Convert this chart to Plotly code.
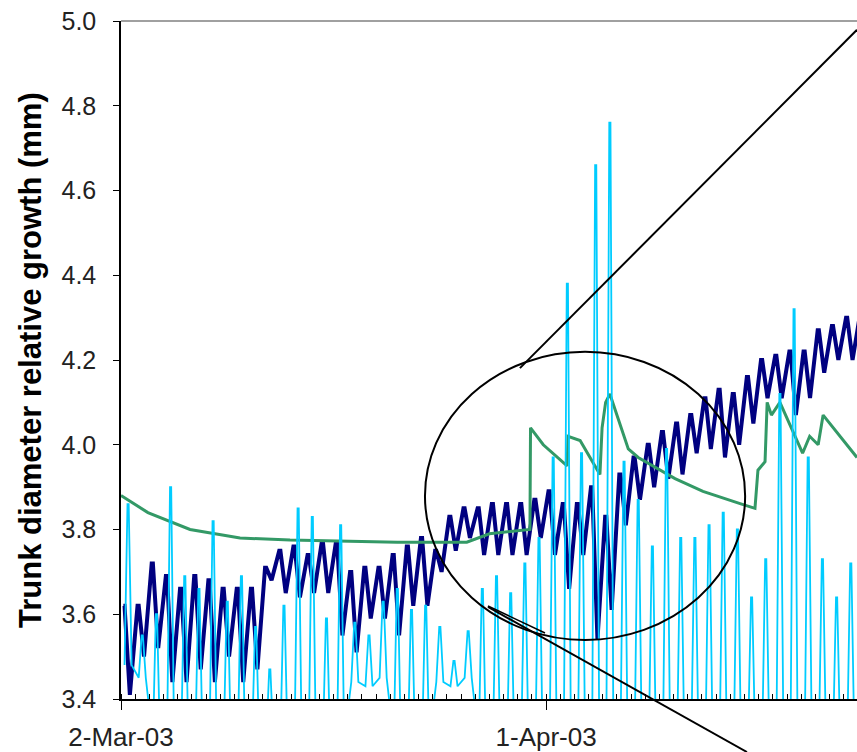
import pandas as pd
import plotly.graph_objects as go

BASE = "2003-03-02"
X_END_DAYS = 51.94

# Trunk diameter (navy): daily maximum (pre-dawn) and minimum (afternoon), mm
navy_peak = [3.62, 3.62, 3.72, 3.69, 3.66, 3.69, 3.68, 3.66, 3.66, 3.66,
             3.71, 3.75, 3.76, 3.74, 3.77, 3.77, 3.70, 3.71, 3.71, 3.74,
             3.76, 3.78, 3.75, 3.83, 3.85, 3.85, 3.86, 3.86, 3.86, 3.87,
             3.89, 3.86, 3.86, 3.90, 3.83, 3.93, 3.97, 4.00, 4.03, 4.05,
             4.07, 4.11, 4.13, 4.12, 4.16, 4.20, 4.21, 4.22, 4.22, 4.27,
             4.28, 4.30, 4.31]
navy_trough = [3.41, 3.50, 3.52, 3.44, 3.44, 3.47, 3.44, 3.50, 3.44, 3.47,
               3.68, 3.65, 3.64, 3.65, 3.65, 3.55, 3.51, 3.59, 3.59, 3.55,
               3.62, 3.62, 3.70, 3.75, 3.78, 3.74, 3.74, 3.74, 3.74, 3.78,
               3.74, 3.66, 3.74, 3.54, 3.61, 3.81, 3.87, 3.90, 3.92, 3.93,
               3.98, 3.99, 3.97, 4.00, 4.05, 4.11, 4.11, 4.07, 4.11, 4.17,
               4.20, 4.20, 4.22]

# Cyan series: daily peak and night value
cyan_peak = [3.86, 3.55, 3.60, 3.90, 3.69, 3.66, 3.82, 3.63, 3.69, 3.57,
             3.47, 3.62, 3.85, 3.83, 3.59, 3.81, 3.58, 3.55, 3.63, 3.66,
             3.61, 3.62, 3.57, 3.49, 3.56, 3.66, 3.69, 3.65, 3.72, 3.78,
             3.97, 4.38, 3.98, 4.66, 4.76, 3.96, 3.87, 3.76, 3.99, 3.78,
             3.78, 3.81, 3.84, 3.80, 3.64, 3.73, 4.12, 4.32, 3.97, 3.73,
             3.64, 3.72]
cyan_night = [3.48, 3.45, 3.30, 3.30, 3.30, 3.30, 3.30, 3.30, 3.30, 3.30,
              3.30, 3.30, 3.30, 3.30, 3.30, 3.30, 3.44, 3.43, 3.45, 3.30,
              3.30, 3.30, 3.44, 3.43, 3.45, 3.30, 3.30, 3.30, 3.30, 3.30,
              3.30, 3.30, 3.30, 3.30, 3.30, 3.30, 3.30, 3.30, 3.30, 3.30,
              3.30, 3.30, 3.30, 3.30, 3.30, 3.30, 3.30, 3.30, 3.30, 3.30,
              3.30, 3.30]

# Green series: (day offset from 2-Mar-03, value)
green_day = [0.0, 1.9, 4.87, 8.4, 11.93, 19.5, 24.4, 26.0, 28.86, 28.9,
             29.8, 31.48, 31.55, 32.4, 33.8, 33.95, 34.2, 34.5, 35.8, 36.5,
             39.1, 41.07, 43.8, 44.74, 44.95, 45.45, 45.6, 45.9, 46.5, 48.1,
             48.6, 49.2, 49.55, 51.94]
green_val = [3.88, 3.84, 3.80, 3.78, 3.775, 3.77, 3.77, 3.79, 3.80, 4.04,
             4.00, 3.95, 4.02, 4.01, 3.93, 4.04, 4.10, 4.12, 3.99, 3.97,
             3.92, 3.89, 3.86, 3.85, 3.94, 3.96, 4.10, 4.07, 4.10, 3.98,
             4.02, 4.00, 4.07, 3.97]

base = pd.Timestamp(BASE)
D = lambda d, h=0: base + pd.Timedelta(days=d, hours=h)

nx, ny = [], []
for d, (p, t) in enumerate(zip(navy_peak, navy_trough)):
    nx += [D(d, 4), D(d, 6), D(d, 15)]
    ny += [p, p, t]

cx, cy = [], []
for d, (p, n) in enumerate(zip(cyan_peak, cyan_night)):
    cx += [D(d, 6), D(d, 11), D(d, 13), D(d, 18)]
    cy += [n, p, p, n]

gx = [D(d) for d in green_day]

FONT = "Liberation Sans, Arial, sans-serif"

fig = go.Figure()
fig.add_trace(go.Scatter(x=nx, y=ny, mode="lines",
                         line=dict(color="#000080", width=4), hoverinfo="skip"))
fig.add_trace(go.Scatter(x=gx, y=green_val, mode="lines",
                         line=dict(color="#339966", width=3), hoverinfo="skip"))
fig.add_trace(go.Scatter(x=cx, y=cy, mode="lines",
                         line=dict(color="#00CCFF", width=1.8), hoverinfo="skip"))

fig.update_layout(
    width=857, height=752,
    margin=dict(l=121, r=0, t=21, b=53, autoexpand=False),
    plot_bgcolor="white", paper_bgcolor="white",
    showlegend=False,
    font=dict(family=FONT, color="#222222"),
    xaxis=dict(
        type="date", range=[D(0), D(X_END_DAYS)],
        tick0=BASE, dtick=30 * 86400000, tickformat="%-d-%b-%y",
        ticks="outside", ticklen=9, tickcolor="black", tickwidth=1,
        showline=True, linecolor="black", linewidth=1.5,
        showgrid=False, zeroline=False,
        tickfont=dict(size=26, family=FONT, color="#222222"),
        ticklabelstandoff=5,
        minor=dict(ticks="inside", ticklen=5, dtick=86400000, tick0=BASE,
                   tickcolor="black", showgrid=False),
    ),
    yaxis=dict(
        range=[3.4, 5.0], dtick=0.2, tick0=3.4, tickformat=".1f",
        ticks="outside", ticklen=6, tickcolor="black",
        showline=True, linecolor="black", linewidth=1.5,
        showgrid=False, zeroline=False,
        tickfont=dict(size=25, family=FONT, color="#222222"),
        ticklabelstandoff=12,
    ),
    annotations=[dict(
        text="<b>Trunk diameter relative growth (mm)</b>",
        xref="paper", yref="paper", x=-0.1236, y=0.5,
        xanchor="center", yanchor="middle", textangle=-90, showarrow=False,
        font=dict(size=31, family=FONT, color="black"),
    )],
    shapes=[
        dict(type="line", xref="paper", yref="paper", x0=0, x1=1, y0=1, y1=1,
             line=dict(color="#808080", width=1.5)),
        dict(type="circle", xref="paper", yref="paper",
             x0=0.413, x1=0.848, y0=0.087, y1=0.512,
             line=dict(color="black", width=2)),
        dict(type="line", xref="paper", yref="paper",
             x0=0.542, y0=0.488, x1=1.0, y1=0.987,
             line=dict(color="black", width=2)),
        dict(type="line", xref="paper", yref="paper",
             x0=0.4986, y0=0.1357, x1=0.8505, y1=-0.0782,
             line=dict(color="black", width=2)),
        dict(type="line", xref="paper", yref="paper",
             x0=0.4986, y0=0.1372, x1=0.5761, y1=0.0973,
             line=dict(color="black", width=1.5)),
    ],
)

fig.write_html("out.html")
